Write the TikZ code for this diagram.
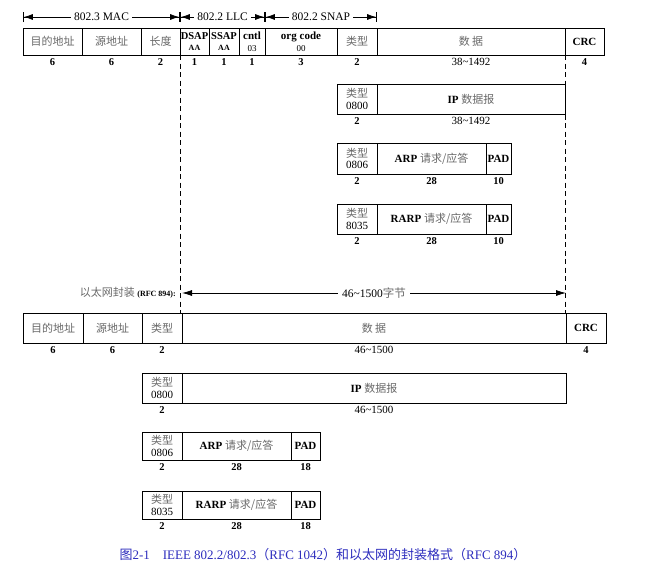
\documentclass[tikz,border=0pt]{standalone}
\usepackage{fontspec}
\setmainfont{Liberation Serif}
\newfontfamily\cjk{Noto Sans CJK SC}
\usetikzlibrary{arrows.meta, positioning}
\definecolor{figblue}{RGB}{45, 45, 190}
\definecolor{hanzigray}{RGB}{105, 105, 105}
\newcommand{\hanzi}[1]{{\cjk\color{hanzigray}#1}}

\begin{document}
\begin{tikzpicture}[
    x=1pt, y=-1pt,
    field/.style={rectangle, draw, line width=1pt, outer sep=0pt, inner sep=0pt, minimum height=#1, align=center, font=\fontsize{11}{11.5}\selectfont},
    field/.default=30pt,
    size/.style={inner sep=1pt, font=\bfseries\fontsize{10.5}{11}\selectfont},
    plainsize/.style={inner sep=1pt, font=\fontsize{11}{12}\selectfont},
    span/.style={arrows={{Bar[width=10pt]Latex[length=9pt,width=6pt]}-{Latex[length=9pt,width=6pt]Bar[width=10pt]}}, line width=0.8pt},
    bothway/.style={arrows={Latex[length=10pt,width=6pt]-Latex[length=10pt,width=6pt]}, line width=0.8pt},
    boundary/.style={dashed, dash pattern=on 5pt off 3.5pt, line width=0.7pt}
]
\path[fill=white] (0,0) rectangle (647,570);
\useasboundingbox (0,0) rectangle (647,570);

% IEEE 802.2/802.3 frame
\node[field=27pt, minimum width=59pt, anchor=north west] (dst) at (23,28) {\hanzi{目的地址}};
\node[field=27pt, minimum width=59pt, right=0pt of dst] (src) {\hanzi{源地址}};
\node[field=27pt, minimum width=39pt, right=0pt of src] (len) {\hanzi{长度}};
\node[field=27pt, minimum width=29pt, right=0pt of len] (dsap) {\fontsize{10.5}{11}\selectfont\textbf{DSAP}\\{\fontsize{8}{9}\selectfont\textbf{AA}}};
\node[field=27pt, minimum width=30pt, right=0pt of dsap] (ssap) {\fontsize{10.5}{11}\selectfont\textbf{SSAP}\\{\fontsize{8}{9}\selectfont\textbf{AA}}};
\node[field=27pt, minimum width=26pt, right=0pt of ssap] (cntl) {\textbf{cntl}\\{\fontsize{9}{10}\selectfont 03}};
\node[field=27pt, minimum width=72pt, right=0pt of cntl] (org) {\textbf{org code}\\{\fontsize{9}{10}\selectfont 00}};
\node[field=27pt, minimum width=40pt, right=0pt of org] (type) {\hanzi{类型}};
\node[field=27pt, minimum width=188pt, right=0pt of type] (data) {\hanzi{数\ 据}};
\node[field=27pt, minimum width=39pt, right=0pt of data] (crc) {\textbf{CRC}};

\node[size, below=2pt of dst] (dstn) {6};
\node[size, below=2pt of src] (srcn) {6};
\node[size, below=2pt of len] (lenn) {2};
\node[size, below=2pt of dsap] (dsapn) {1};
\node[size, below=2pt of ssap] (ssapn) {1};
\node[size, below=2pt of cntl] (cntln) {1};
\node[size, below=2pt of org] (orgn) {3};
\node[size, below=2pt of type] (typen) {2};
\node[plainsize, below=2pt of data] (datan) {38\textasciitilde1492};
\node[size, below=2pt of crc] (crcn) {4};

% header spans
\draw[span] ([yshift=11pt]dst.north west) -- node[fill=white, font=\fontsize{11.5}{12}\selectfont, inner sep=3pt] {802.3 MAC} ([yshift=11pt]dsap.north west);
\draw[span] ([yshift=11pt]dsap.north west) -- node[fill=white, font=\fontsize{11.5}{12}\selectfont, inner sep=3pt] {802.2 LLC} ([yshift=11pt]org.north west);
\draw[span] ([yshift=11pt]org.north west) -- node[fill=white, font=\fontsize{11.5}{12}\selectfont, inner sep=3pt] {802.2 SNAP} ([yshift=11pt]data.north west);

% 802.3 payloads
\node[field, minimum width=40pt, below=29pt of type] (iptype) {\hanzi{类型}\\0800};
\node[field, minimum width=188pt, right=0pt of iptype] (ip) {\textbf{IP} \hanzi{数据报}};
\node[size, below=2pt of iptype] (iptypen) {2};
\node[plainsize, below=2pt of ip] (ipn) {38\textasciitilde1492};

\node[field=31pt, minimum width=40pt, below=29pt of iptype] (arptype) {\hanzi{类型}\\0806};
\node[field=31pt, minimum width=109pt, right=0pt of arptype] (arp) {\textbf{ARP} \hanzi{请求/应答}};
\node[field=31pt, minimum width=25pt, right=0pt of arp] (arppad) {\textbf{PAD}};
\node[size, below=2pt of arptype] (arptypen) {2};
\node[size, below=2pt of arp] (arpn) {28};
\node[size, below=2pt of arppad] (arppadn) {10};

\node[field, minimum width=40pt, below=30pt of arptype] (rarptype) {\hanzi{类型}\\8035};
\node[field, minimum width=109pt, right=0pt of rarptype] (rarp) {\textbf{RARP} \hanzi{请求/应答}};
\node[field, minimum width=25pt, right=0pt of rarp] (rarppad) {\textbf{PAD}};
\node[size, below=2pt of rarptype] (rarptypen) {2};
\node[size, below=2pt of rarp] (rarpn) {28};
\node[size, below=2pt of rarppad] (rarppadn) {10};

% Ethernet frame
\node[field, minimum width=60pt, anchor=north west] (ldst) at (23,313) {\hanzi{目的地址}};
\node[field, minimum width=59pt, right=0pt of ldst] (lsrc) {\hanzi{源地址}};
\node[field, minimum width=40pt, right=0pt of lsrc] (ltype) {\hanzi{类型}};
\node[field, minimum width=384pt, right=0pt of ltype] (ldata) {\hanzi{数\ 据}};
\node[field, minimum width=40pt, right=0pt of ldata] (lcrc) {\textbf{CRC}};

\node[size, below=2pt of ldst] (ldstn) {6};
\node[size, below=2pt of lsrc] (lsrcn) {6};
\node[size, below=2pt of ltype] (ltypen) {2};
\node[plainsize, below=2pt of ldata] (ldatan) {46\textasciitilde1500};
\node[size, below=2pt of lcrc] (lcrcn) {4};

% Ethernet payloads
\node[field, minimum width=40pt, below=30pt of ltype] (liptype) {\hanzi{类型}\\0800};
\node[field, minimum width=384pt, right=0pt of liptype] (lip) {\textbf{IP} \hanzi{数据报}};
\node[size, below=2pt of liptype] (liptypen) {2};
\node[plainsize, below=2pt of lip] (lipn) {46\textasciitilde1500};

\node[field=28pt, minimum width=40pt, below=29pt of liptype] (larptype) {\hanzi{类型}\\0806};
\node[field=28pt, minimum width=109pt, right=0pt of larptype] (larp) {\textbf{ARP} \hanzi{请求/应答}};
\node[field=28pt, minimum width=29pt, right=0pt of larp] (larppad) {\textbf{PAD}};
\node[size, below=2pt of larptype] (larptypen) {2};
\node[size, below=2pt of larp] (larpn) {28};
\node[size, below=2pt of larppad] (larppadn) {18};

\node[field=28pt, minimum width=40pt, below=31pt of larptype] (lrarptype) {\hanzi{类型}\\8035};
\node[field=28pt, minimum width=109pt, right=0pt of lrarptype] (lrarp) {\textbf{RARP} \hanzi{请求/应答}};
\node[field=28pt, minimum width=29pt, right=0pt of lrarp] (lrarppad) {\textbf{PAD}};
\node[size, below=2pt of lrarptype] (lrarptypen) {2};
\node[size, below=2pt of lrarp] (lrarpn) {28};
\node[size, below=2pt of lrarppad] (lrarppadn) {18};

% boundaries and 46~1500 span
\draw[boundary] (dsap.south west) -- (dsap.south west |- ldata.north west);
\draw[boundary] (crc.south west) -- (crc.south west |- lcrc.north west);
\coordinate (spanL) at ([yshift=20pt]ltype.north east);
\coordinate (spanR) at ([yshift=20pt]lcrc.north west);
\draw[bothway] (spanL) -- node[fill=white, inner sep=4pt, font=\fontsize{11.5}{12}\selectfont] {46\textasciitilde1500\hanzi{字节}} (spanR);
\node[anchor=east, inner sep=0pt] (ethlbl) at ([xshift=-6pt]spanL) {\hanzi{\fontsize{11}{12}\selectfont 以太网封装} {\fontsize{8}{9}\selectfont\textbf{(RFC 894):}}};

% caption
\node[text=figblue, font=\fontsize{13}{15}\selectfont] (caption) at (323,555) {{\cjk 图}2-1\quad IEEE 802.2/802.3{\cjk （}RFC 1042{\cjk ）和以太网的封装格式（}RFC 894{\cjk ）}};
\end{tikzpicture}
\end{document}
